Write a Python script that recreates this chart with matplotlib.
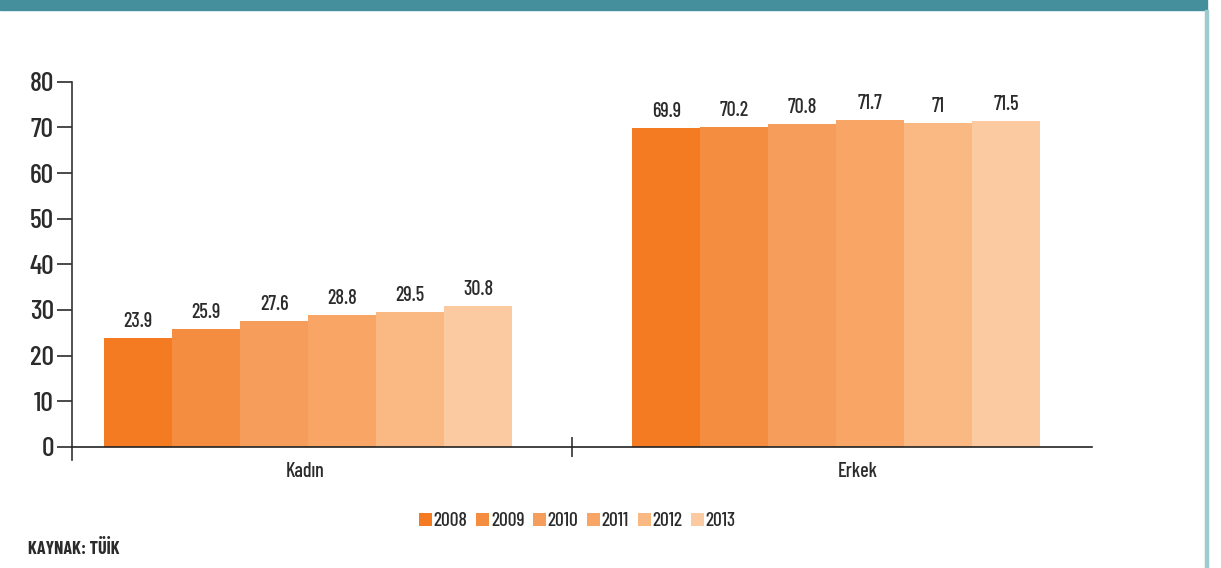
import matplotlib.pyplot as plt
from matplotlib.patches import Rectangle

plt.rcParams['font.family'] = ['Barlow Condensed', 'DejaVu Sans']
plt.rcParams['font.weight'] = 500

# data
groups = ["Kadın", "Erkek"]
years = ["2008", "2009", "2010", "2011", "2012", "2013"]
kadin = [23.9, 25.9, 27.6, 28.8, 29.5, 30.8]
erkek = [69.9, 70.2, 70.8, 71.7, 71, 71.5]
bar_labels_erkek = ["69.9", "70.2", "70.8", "71.7", "71", "71.5"]
colors = ["#f47b22", "#f58d40", "#f79d5c", "#f8a566", "#fab883", "#fccaa0"]

fig = plt.figure(figsize=(12.21, 5.68), dpi=100)
ax = fig.add_axes([0.059, 0.19, 0.835, 0.666])

w = 0.1287
for i, yr in enumerate(years):
    off = (i - 2.5) * w
    vals = [kadin[i], erkek[i]]
    bars = ax.bar([0 + off, 1 + off], vals, width=w, color=colors[i], label=yr, zorder=2)
    ax.bar_label(bars, labels=[f"{kadin[i]}", bar_labels_erkek[i]], padding=5,
                 fontsize=14.5, color="#2b2b2b")

ax.set_xlim(-0.447, 1.483)
ax.set_ylim(-2.9, 80)
ax.set_yticks(range(0, 81, 10))
ax.tick_params(axis="y", length=11, width=1.2, labelsize=20, colors="#2b2b2b", pad=2)

ax.spines["top"].set_visible(False)
ax.spines["right"].set_visible(False)
ax.spines["left"].set_color("#333333")
ax.spines["left"].set_linewidth(1.2)
ax.spines["bottom"].set_position(("data", 0))
ax.spines["bottom"].set_color("#222222")
ax.spines["bottom"].set_linewidth(1.2)
ax.spines["bottom"].set_zorder(3)

# category labels sit slightly off the group centres in the original
ax.set_xticks([-0.006, 1.04])
ax.set_xticklabels(groups)
ax.set_xticks([0.5], minor=True)
ax.tick_params(axis="x", which="major", length=0, labelsize=14.5, colors="#2b2b2b", pad=11)
ax.tick_params(axis="x", which="minor", direction="inout", length=15, width=1.2, color="#333333")

ax.legend(loc="center", bbox_to_anchor=(0.473, 0.083), bbox_transform=fig.transFigure,
          ncol=6, frameon=False, fontsize=14, handlelength=0.65, handleheight=0.65,
          handletextpad=0.1, columnspacing=0.45, labelcolor="#2b2b2b")

# header band and right border
fig.patches.append(Rectangle((0, 1 - 10 / 568), 1207 / 1221, 10 / 568,
                             transform=fig.transFigure, color="#458f9c", zorder=0))
fig.patches.append(Rectangle((1205 / 1221, 0), 2.5 / 1221, 1 - 10 / 568,
                             transform=fig.transFigure, color="#9ccbd0", zorder=0))

fig.text(28 / 1221, 1 - 549 / 568, "KAYNAK: TÜİK", fontsize=13, fontweight="bold",
         color="#2b2b2b", va="center")

fig.savefig("out.png", dpi=100)
